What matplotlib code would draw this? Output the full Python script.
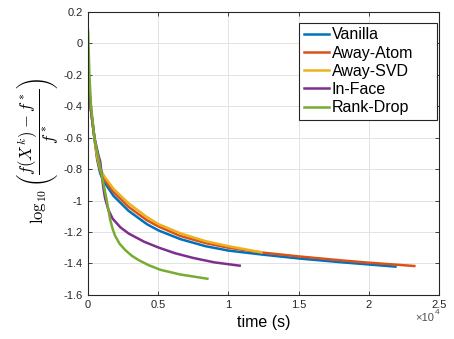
import matplotlib
matplotlib.use('Agg')
import matplotlib.pyplot as plt
from matplotlib.ticker import FuncFormatter

plt.rcParams['font.family'] = ['Liberation Sans', 'DejaVu Sans']
plt.rcParams['mathtext.fontset'] = 'cm'

# time (s) and log10 relative gap per method
t_vanilla = [0, 200, 450, 650, 860, 1000, 1210, 1810, 2880, 4190, 5020, 6570, 8360, 10000, 12360, 15000, 18000, 21900]
v_vanilla = [-0.2, -0.42, -0.6, -0.74, -0.826, -0.855, -0.89, -0.97, -1.065, -1.15, -1.19, -1.245, -1.29, -1.318, -1.343, -1.368, -1.392, -1.42]

t_atom = [0, 200, 450, 650, 860, 1000, 1210, 1810, 2880, 4190, 5020, 6570, 8360, 10000, 12360, 15000, 18000, 20000, 23240]
v_atom = [-0.2, -0.42, -0.6, -0.73, -0.81, -0.84, -0.872, -0.945, -1.04, -1.125, -1.165, -1.225, -1.27, -1.30, -1.33, -1.355, -1.38, -1.395, -1.416]

t_svd = [0, 200, 450, 650, 860, 1000, 1210, 1810, 2880, 4190, 5020, 6570, 8360, 10000, 12360]
v_svd = [-0.2, -0.42, -0.6, -0.72, -0.795, -0.822, -0.853, -0.925, -1.017, -1.105, -1.15, -1.208, -1.258, -1.29, -1.329]

t_inface = [0, 200, 450, 760, 860, 980, 1090, 1210, 1450, 1750, 2300, 2900, 4000, 5000, 6200, 7500, 9000, 10800]
v_inface = [-0.2, -0.42, -0.6, -0.72, -0.75, -0.84, -0.92, -0.985, -1.06, -1.115, -1.17, -1.21, -1.262, -1.298, -1.335, -1.365, -1.393, -1.414]

t_rank = [0, 95, 210, 450, 860, 1000, 1200, 1330, 1570, 1750, 1930, 2250, 2640, 3100, 3590, 4300, 5140, 6570, 8500]
v_rank = [0.08, -0.2, -0.4, -0.6, -0.79, -0.85, -0.94, -1.0, -1.12, -1.18, -1.225, -1.275, -1.314, -1.35, -1.378, -1.41, -1.44, -1.47, -1.497]

labels = ['Vanilla', 'Away-Atom', 'Away-SVD', 'In-Face', 'Rank-Drop']
colors = ['#0072BD', '#D95319', '#EDB120', '#7E2F8E', '#77AC30']
series = [(t_vanilla, v_vanilla), (t_atom, v_atom), (t_svd, v_svd),
          (t_inface, v_inface), (t_rank, v_rank)]

fig = plt.figure(figsize=(4.54, 3.39), dpi=100)
ax = fig.add_axes([0.194, 0.130, 0.773, 0.835])

for (t, v), lab, c in zip(series, labels, colors):
    ax.plot(t, v, color=c, lw=1.8, label=lab, solid_joinstyle='round')

ax.set_xlim(0, 25000)
ax.set_ylim(-1.6, 0.2)
ax.set_xticks([0, 5000, 10000, 15000, 20000, 25000])
ax.set_yticks([0.2, 0, -0.2, -0.4, -0.6, -0.8, -1, -1.2, -1.4, -1.6])
ax.xaxis.set_major_formatter(FuncFormatter(lambda x, p: '%g' % (x / 1e4)))
ax.yaxis.set_major_formatter(FuncFormatter(lambda y, p: '%g' % round(y, 2)))
ax.tick_params(direction='in', top=True, right=True, labelsize=8, length=3,
               width=0.6, colors='#262626', pad=4)
ax.grid(True, color='#e3e3e3', lw=0.7)
for s in ax.spines.values():
    s.set_linewidth(0.8)
    s.set_color('#262626')

ax.set_xlabel('time (s)', fontsize=11.5, labelpad=3)
ax.set_ylabel(r'$\log_{10}\left(\dfrac{f(X^k)-f^*}{f^*}\right)$', fontsize=12)
ax.yaxis.set_label_coords(-0.08, 0.51)
ax.text(0.985, -0.065, '×10', transform=ax.transAxes, fontsize=8,
        ha='right', va='top', color='#505050')
ax.text(0.987, -0.05, '4', transform=ax.transAxes, fontsize=6,
        ha='left', va='top', color='#505050')

leg = ax.legend(loc='upper right', fontsize=11.5, handlelength=1.6,
                handletextpad=0.15, labelspacing=0.2, borderpad=0.3,
                borderaxespad=0.0, fancybox=False, framealpha=1,
                edgecolor='#262626', mode='expand',
                bbox_to_anchor=(0.601, 0.5, 0.393, 0.462))
leg.get_frame().set_linewidth(0.8)

fig.savefig('out.png', dpi=100)
